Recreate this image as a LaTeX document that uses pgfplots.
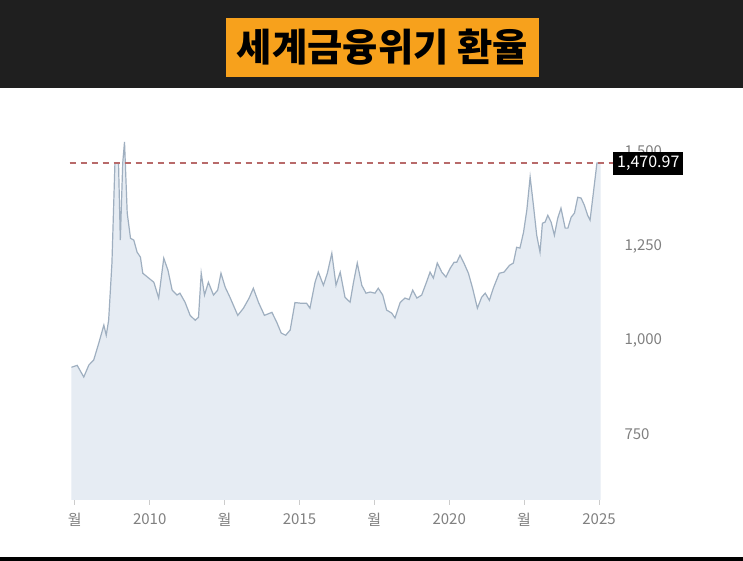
\documentclass[border=0pt]{standalone}
\usepackage{graphicx}
\usepackage{pgfplots}
\pgfplotsset{compat=1.18}
\usepackage{pgfplotstable}
\usepackage{fontspec}
\setmainfont{Noto Sans}
\newfontfamily\cjk{Noto Sans CJK KR}
\definecolor{topbg}{HTML}{1F1F1F}
\definecolor{orangec}{HTML}{F7A11C}
\definecolor{fillc}{HTML}{E6ECF3}
\definecolor{linec}{HTML}{9FAFC0}
\definecolor{dashc}{HTML}{B86A6A}
\definecolor{tickc}{HTML}{808080}

\pgfplotstableread{
year value
2007.39 928
2007.58 933
2007.80 902
2007.97 934
2008.13 947
2008.30 992
2008.47 1040
2008.55 1013
2008.63 1053
2008.74 1205
2008.84 1471
2008.96 1471
2009.02 1266
2009.10 1471
2009.16 1527
2009.25 1338
2009.36 1271
2009.47 1266
2009.58 1234
2009.69 1221
2009.77 1178
2009.97 1165
2010.14 1154
2010.30 1112
2010.47 1218
2010.61 1186
2010.75 1133
2010.91 1120
2011.01 1125
2011.18 1101
2011.35 1066
2011.52 1053
2011.63 1061
2011.72 1178
2011.83 1120
2011.96 1154
2012.13 1120
2012.27 1133
2012.38 1178
2012.52 1141
2012.68 1114
2012.94 1066
2013.13 1085
2013.32 1112
2013.46 1138
2013.63 1101
2013.83 1066
2014.08 1074
2014.24 1048
2014.39 1019
2014.54 1013
2014.69 1027
2014.85 1100
2015.08 1098
2015.24 1098
2015.35 1085
2015.52 1154
2015.63 1181
2015.80 1146
2015.93 1178
2016.08 1231
2016.22 1146
2016.36 1181
2016.52 1114
2016.69 1101
2016.80 1152
2016.93 1205
2017.08 1146
2017.22 1125
2017.36 1128
2017.52 1125
2017.63 1138
2017.78 1120
2017.91 1080
2018.08 1072
2018.19 1059
2018.36 1100
2018.52 1112
2018.66 1108
2018.78 1133
2018.92 1112
2019.08 1120
2019.23 1152
2019.36 1181
2019.47 1165
2019.60 1205
2019.75 1181
2019.89 1168
2020.03 1191
2020.16 1207
2020.25 1207
2020.36 1226
2020.49 1205
2020.64 1178
2020.78 1138
2020.94 1085
2021.08 1114
2021.20 1125
2021.34 1106
2021.47 1138
2021.67 1178
2021.83 1181
2022.01 1199
2022.14 1205
2022.25 1247
2022.36 1245
2022.48 1287
2022.59 1346
2022.70 1434
2022.81 1359
2022.92 1279
2023.03 1234
2023.11 1311
2023.20 1314
2023.29 1332
2023.40 1314
2023.51 1279
2023.62 1324
2023.73 1351
2023.87 1298
2023.96 1298
2024.07 1327
2024.18 1338
2024.29 1380
2024.40 1378
2024.51 1359
2024.62 1332
2024.70 1319
2024.81 1391
2024.93 1471
2025.05 1471
}\fxdata

\begin{document}
\begin{tikzpicture}[x=1pt,y=1pt]
\useasboundingbox (0,0) rectangle (743,561);
\fill[white] (0,0) rectangle (743,561);
\fill[topbg] (0,473) rectangle (743,561);
\fill[black] (0,0) rectangle (743,4);
\fill[orangec] (226,484) rectangle (539,543);
\node[inner sep=0pt] at (382.5,513.5) {\resizebox{291pt}{!}{\cjk\bfseries 세계금융위기 환율}};
\begin{axis}[
  at={(69.7pt,61pt)}, anchor=south west,
  scale only axis, width=544.3pt, height=370.4pt,
  xmin=2007.33, xmax=2025.5, ymin=575, ymax=1560,
  axis line style={draw=none},
  no markers,
  xtick={2007.5,2010,2012.5,2015,2017.5,2020,2022.5,2025},
  xticklabels={월,2010,월,2015,월,2020,월,2025},
  ytick={750,1000,1250,1500},
  yticklabels={750,{1,000},{1,250},{1,500}},
  xtick pos=bottom, ytick pos=right,
  tick align=outside, major tick length=5pt,
  xtick style={draw=black!20, line width=0.8pt},
  ytick style={draw=none},
  xticklabel style={font=\cjk\fontsize{15}{15}\selectfont, text=tickc, yshift=-5pt},
  yticklabel style={font=\cjk\fontsize{15}{15}\selectfont, text=tickc, anchor=west, xshift=2pt},
  /pgf/number format/assume math mode=true,
]
\addplot[draw=none, fill=fillc] table[x=year,y=value] {\fxdata} \closedcycle;
\addplot[linec, line width=1.2pt] table[x=year,y=value] {\fxdata};
\addplot[dashc, line width=1.3pt, dash pattern=on 6pt off 5pt] coordinates {(2007.33,1470.97) (2025.5,1470.97)};
\coordinate (lab) at (axis cs:2025.5,1470.97);
\end{axis}
\node[fill=black, text=white, anchor=west, inner xsep=4pt, minimum height=23pt, font=\cjk\fontsize{16}{16}\selectfont] at ([xshift=-1pt]lab) {1,470.97};
\end{tikzpicture}
\end{document}
